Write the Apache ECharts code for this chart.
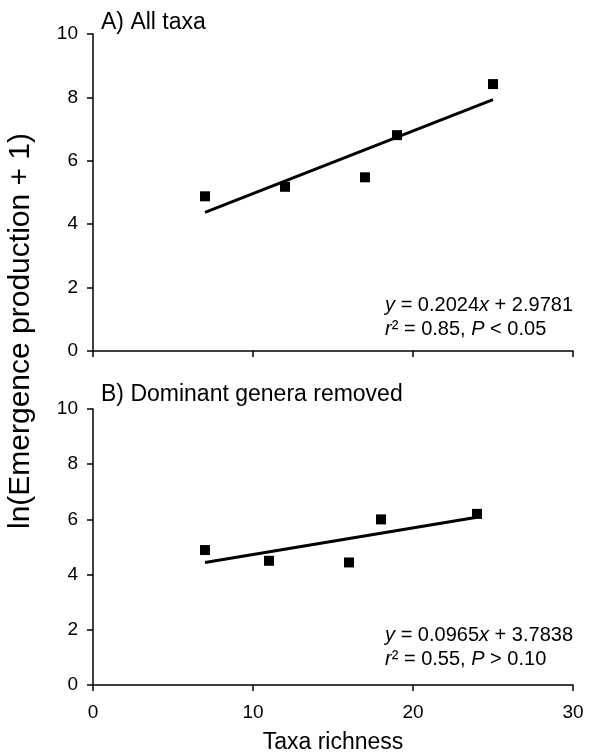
<!DOCTYPE html>
<html>
<head>
<meta charset="utf-8">
<script src="https://cdn.jsdelivr.net/npm/echarts@6/dist/echarts.min.js"></script>
<style>
    html, body { margin: 0; padding: 0; background: #fff; }
    #chart { width: 594px; height: 755px; }
</style>
</head>
<body>
<div id="chart"></div>
<script>
    // panel A: all taxa
    const taxaA = [7, 12, 17, 19, 25]
    const prodA = [4.88, 5.18, 5.48, 6.81, 8.42]
    const fitA = [[7, 4.37], [25, 7.93]]   // y = 0.2024x + 2.9781
    // panel B: dominant genera removed
    const taxaB = [7, 11, 16, 18, 24]
    const prodB = [4.89, 4.50, 4.44, 6.00, 6.20]
    const fitB = [[7, 4.44], [24, 6.08]]   // y = 0.0965x + 3.7838

    const xTicks = [0, 10, 20, 30]
    const yTicks = [0, 2, 4, 6, 8, 10]

    const font = 'Liberation Sans, Arial, Helvetica, sans-serif'
    const black = '#000'

    let myChart = echarts.init(document.getElementById('chart'))

    function xAxisCfg(gridIndex, showLabel) {
        return {
            type: 'value',
            gridIndex: gridIndex,
            min: xTicks[0],
            max: xTicks[xTicks.length - 1],
            interval: 10,
            axisLine: { show: true, onZero: false, lineStyle: { color: black, width: 1.5 } },
            axisTick: { show: true, length: 6, inside: false, lineStyle: { color: black, width: 1.5 } },
            axisLabel: { show: showLabel, color: black, fontSize: 19, fontFamily: font, margin: 18 },
            splitLine: { show: false },
            name: showLabel ? 'Taxa richness' : '',
            nameLocation: 'middle',
            nameGap: 46,
            nameTextStyle: { color: black, fontSize: 23, fontFamily: font }
        }
    }

    function yAxisCfg(gridIndex) {
        return {
            type: 'value',
            gridIndex: gridIndex,
            min: yTicks[0],
            max: yTicks[yTicks.length - 1],
            interval: 2,
            axisLine: { show: true, onZero: false, lineStyle: { color: black, width: 1.5 } },
            axisTick: { show: true, length: 6, lineStyle: { color: black, width: 1.5 } },
            axisLabel: { color: black, fontSize: 19, fontFamily: font, margin: 15 },
            splitLine: { show: false }
        }
    }

    let chartData = {
        backgroundColor: '#fff',
        animation: false,
        grid: [
            { left: 93, top: 34, width: 480, height: 317 },
            { left: 93, top: 409, width: 480, height: 279 }
        ],
        xAxis: [xAxisCfg(0, false), xAxisCfg(1, true)],
        yAxis: [yAxisCfg(0), yAxisCfg(1)],
        graphic: [
            {
                type: 'text', left: 101, top: 11,
                style: { text: 'A) All taxa', fontSize: 23, fontFamily: font, fill: black }
            },
            {
                type: 'text', left: 101, top: 383,
                style: { text: 'B) Dominant genera removed', fontSize: 23, fontFamily: font, fill: black }
            },
            {
                type: 'text', x: 21, y: 331, rotation: Math.PI / 2,
                style: {
                    text: 'ln(Emergence production + 1)', fontSize: 30, fontFamily: font, fill: black,
                    align: 'center', verticalAlign: 'middle'
                }
            },
            {
                type: 'text', right: 21, top: 293,
                style: {
                    text: '{i|y} = 0.2024{i|x} + 2.9781\n{i|r}\u00b2 = 0.85, {i|P} < 0.05',
                    align: 'right', fontSize: 20, lineHeight: 24, fontFamily: font, fill: black,
                    rich: { i: { fontStyle: 'italic', fontSize: 20, fontFamily: font, fill: black } }
                }
            },
            {
                type: 'text', right: 21, top: 623,
                style: {
                    text: '{i|y} = 0.0965{i|x} + 3.7838\n{i|r}\u00b2 = 0.55, {i|P} > 0.10',
                    align: 'right', fontSize: 20, lineHeight: 24, fontFamily: font, fill: black,
                    rich: { i: { fontStyle: 'italic', fontSize: 20, fontFamily: font, fill: black } }
                }
            }
        ],
        series: [
            {
                type: 'scatter', xAxisIndex: 0, yAxisIndex: 0,
                symbol: 'rect', symbolSize: 10,
                itemStyle: { color: black, opacity: 1 },
                data: taxaA.map((x, i) => [x, prodA[i]])
            },
            {
                type: 'line', xAxisIndex: 0, yAxisIndex: 0,
                showSymbol: false, lineStyle: { color: black, width: 3 },
                data: fitA
            },
            {
                type: 'scatter', xAxisIndex: 1, yAxisIndex: 1,
                symbol: 'rect', symbolSize: 10,
                itemStyle: { color: black, opacity: 1 },
                data: taxaB.map((x, i) => [x, prodB[i]])
            },
            {
                type: 'line', xAxisIndex: 1, yAxisIndex: 1,
                showSymbol: false, lineStyle: { color: black, width: 3 },
                data: fitB
            }
        ]
    }
    myChart.setOption(chartData)
</script>
</body>
</html>
